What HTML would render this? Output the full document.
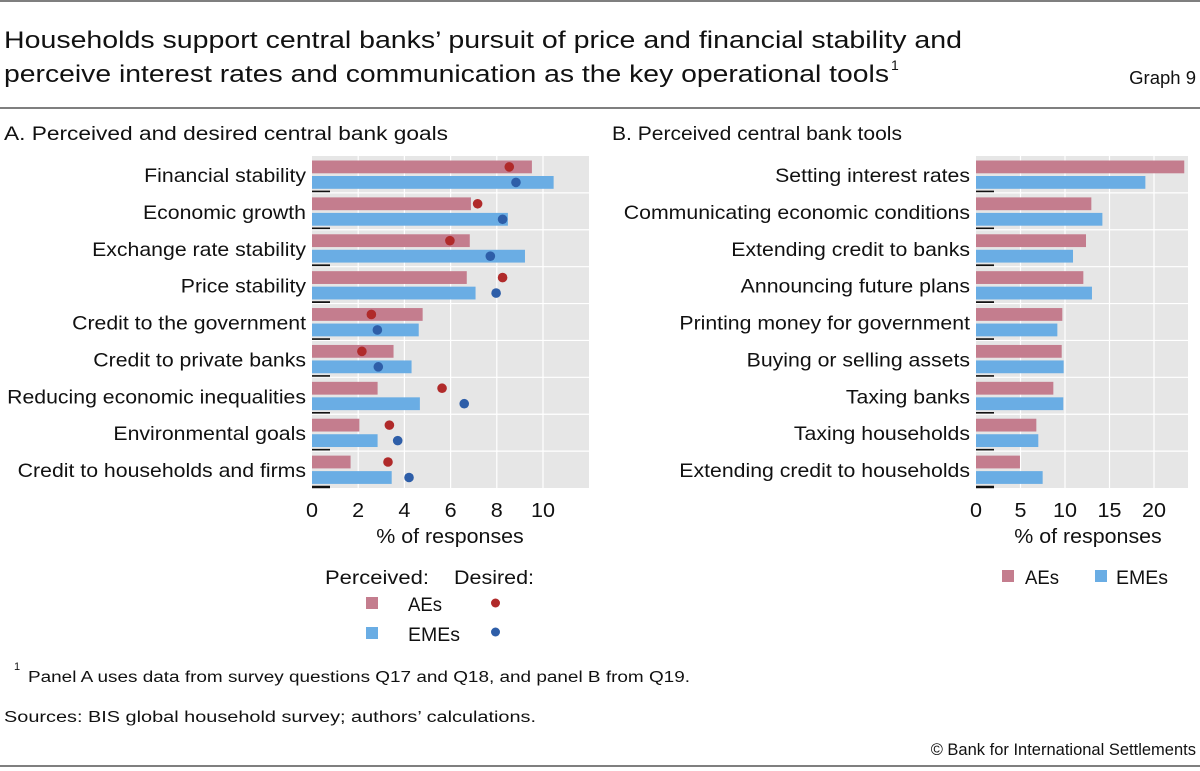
<!DOCTYPE html>
<html><head><meta charset="utf-8"><style>
html,body{margin:0;padding:0;background:#fff}
svg{display:block;font-family:"Liberation Sans","DejaVu Sans",sans-serif}
</style></head><body>
<svg id="s" width="1200" height="771" viewBox="0 0 1200 771" xmlns="http://www.w3.org/2000/svg">
<line x1="0" y1="1" x2="1200" y2="1" stroke="#555" stroke-width="1.5"/>
<text x="4" y="48" font-size="24" fill="#111" textLength="958" lengthAdjust="spacingAndGlyphs">Households support central banks’ pursuit of price and financial stability and</text>
<text x="4" y="82" font-size="24" fill="#111" textLength="885" lengthAdjust="spacingAndGlyphs">perceive interest rates and communication as the key operational tools</text>
<text x="891" y="70" font-size="14" fill="#111">1</text>
<text x="1196" y="84" font-size="18.5" fill="#111" text-anchor="end">Graph 9</text>
<line x1="0" y1="108" x2="1200" y2="108" stroke="#555" stroke-width="1.5"/>
<text x="4" y="140" font-size="19" fill="#111" textLength="444" lengthAdjust="spacingAndGlyphs">A. Perceived and desired central bank goals</text>
<text x="612" y="140" font-size="19" fill="#111" textLength="290" lengthAdjust="spacingAndGlyphs">B. Perceived central bank tools</text>
<g id="pa"></g>
<g id="pb"></g>
<text x="325" y="584" font-size="19" fill="#111" textLength="104" lengthAdjust="spacingAndGlyphs">Perceived:</text>
<text x="454" y="584" font-size="19" fill="#111" textLength="80" lengthAdjust="spacingAndGlyphs">Desired:</text>
<g>
<rect x="366" y="597" width="12" height="12" fill="#c47d8e"/>
<text x="408" y="611" font-size="19" fill="#111" textLength="34" lengthAdjust="spacingAndGlyphs">AEs</text>
<circle cx="495.5" cy="603" r="4.5" fill="#b02a2a"/></g>
<g>
<rect x="366" y="627" width="12" height="12" fill="#6aade4"/>
<text x="408" y="641" font-size="19" fill="#111" textLength="52" lengthAdjust="spacingAndGlyphs">EMEs</text>
<circle cx="495.5" cy="632" r="4.5" fill="#2e5ea8"/></g>
<g>
<rect x="1002" y="570" width="12" height="12" fill="#c47d8e"/>
<text x="1025" y="584" font-size="19" fill="#111" textLength="34" lengthAdjust="spacingAndGlyphs">AEs</text></g>
<g>
<rect x="1095" y="570" width="12" height="12" fill="#6aade4"/>
<text x="1116" y="584" font-size="19" fill="#111" textLength="52" lengthAdjust="spacingAndGlyphs">EMEs</text></g>
<text x="14" y="670" font-size="11" fill="#111">1</text>
<text x="28" y="682" font-size="15.5" fill="#111" textLength="662" lengthAdjust="spacingAndGlyphs">Panel A uses data from survey questions Q17 and Q18, and panel B from Q19.</text>
<text x="4" y="722" font-size="15.5" fill="#111" textLength="532" lengthAdjust="spacingAndGlyphs">Sources: BIS global household survey; authors’ calculations.</text>
<text x="1196" y="755" font-size="16.5" fill="#111" text-anchor="end">© Bank for International Settlements</text>
<line x1="0" y1="766" x2="1200" y2="766" stroke="#555" stroke-width="1.5"/>
</svg>
<script>
const catsA=["Financial stability","Economic growth","Exchange rate stability","Price stability","Credit to the government","Credit to private banks","Reducing economic inequalities","Environmental goals","Credit to households and firms"];
const aePercA=[9.52,6.88,6.83,6.7,4.79,3.53,2.84,2.05,1.67];
const emePercA=[10.46,8.48,9.22,7.08,4.62,4.31,4.67,2.84,3.45];
const aeDesA=[8.54,7.17,5.97,8.25,2.57,2.16,5.63,3.35,3.29];
const emeDesA=[8.83,8.25,7.72,7.97,2.83,2.87,6.59,3.71,4.2];
const ticksA=[0,2,4,6,8,10];
const catsB=["Setting interest rates","Communicating economic conditions","Extending credit to banks","Announcing future plans","Printing money for government","Buying or selling assets","Taxing banks","Taxing households","Extending credit to households"];
const aeB=[23.4,12.96,12.36,12.06,9.7,9.63,8.69,6.78,4.94];
const emeB=[19.03,14.2,10.9,13.03,9.14,9.85,9.81,7.0,7.49];
const ticksB=[0,5,10,15,20];
const NS="http://www.w3.org/2000/svg";
function mk(p,t,a){const e=document.createElementNS(NS,t);for(const k in a)e.setAttribute(k,a[k]);p.appendChild(e);return e;}
function stretch(e,f){const w=e.getComputedTextLength();e.setAttribute('textLength',(w*f).toFixed(1));e.setAttribute('lengthAdjust','spacingAndGlyphs');}
function panel(g,cfg){
  const x=v=>cfg.x0+v*cfg.px, top=156, bot=488, band=(bot-top)/cfg.cats.length;
  const bg=mk(g,'rect',{x:cfg.x0,y:top,width:cfg.right-cfg.x0,height:bot-top,fill:'#e6e6e6'});
  
  
  cfg.ticks.forEach((t,i)=>{
    if(t>0){const gl=mk(g,'line',{x1:x(t),x2:x(t),y1:top,y2:bot,stroke:'#fff','stroke-width':1.2});
      
      }
    const tl=mk(g,'text',{x:x(t),y:517,'font-size':20,'text-anchor':'middle',fill:'#111'});
    tl.textContent=cfg.ticks[i];
    
    
    stretch(tl,1.08);
  });
  cfg.cats.forEach((c,i)=>{
    const y0=top+i*band;
    if(i>0){const d=mk(g,'line',{x1:cfg.x0,x2:cfg.right,y1:y0,y2:y0,stroke:'#fff','stroke-width':1.2});
      
      }
    const r1=mk(g,'rect',{x:x(0),y:y0+4.5,width:x(cfg.a[i])-x(0),height:12.8,fill:'#c47d8e'});
    
    
    const r2=mk(g,'rect',{x:x(0),y:y0+20,width:x(cfg.b[i])-x(0),height:12.8,fill:'#6aade4'});
    
    
    if(cfg.da){
      const c1=mk(g,'circle',{cx:x(cfg.da[i]),cy:y0+10.9,r:4.8,fill:'#b02a2a'});
      
      
      const c2=mk(g,'circle',{cx:x(cfg.db[i]),cy:y0+26.4,r:4.8,fill:'#2e5ea8'});
      
      
    }
    const tk=mk(g,'line',{x1:cfg.x0,x2:cfg.x0+18,y1:y0+band-1,y2:y0+band-1,stroke:'#111','stroke-width':2.5});
    
    
    const lb=mk(g,'text',{x:cfg.x0-6,y:y0+26,'font-size':19.5,'text-anchor':'end',fill:'#111'});
    lb.textContent=c;
    
    
    stretch(lb,1.09);
  });
  const at=mk(g,'text',{x:cfg.atx,y:543,'font-size':20,'text-anchor':'middle',fill:'#111'});
  at.textContent='% of responses';
  
  
  stretch(at,1.07);
}
panel(document.getElementById('pa'),{x0:312,right:589,px:23.1,cats:catsA,a:aePercA,b:emePercA,da:aeDesA,db:emeDesA,ticks:ticksA,atx:450});
panel(document.getElementById('pb'),{x0:976,right:1188,px:8.9,cats:catsB,a:aeB,b:emeB,ticks:ticksB,atx:1088});
</script>
</body></html>
